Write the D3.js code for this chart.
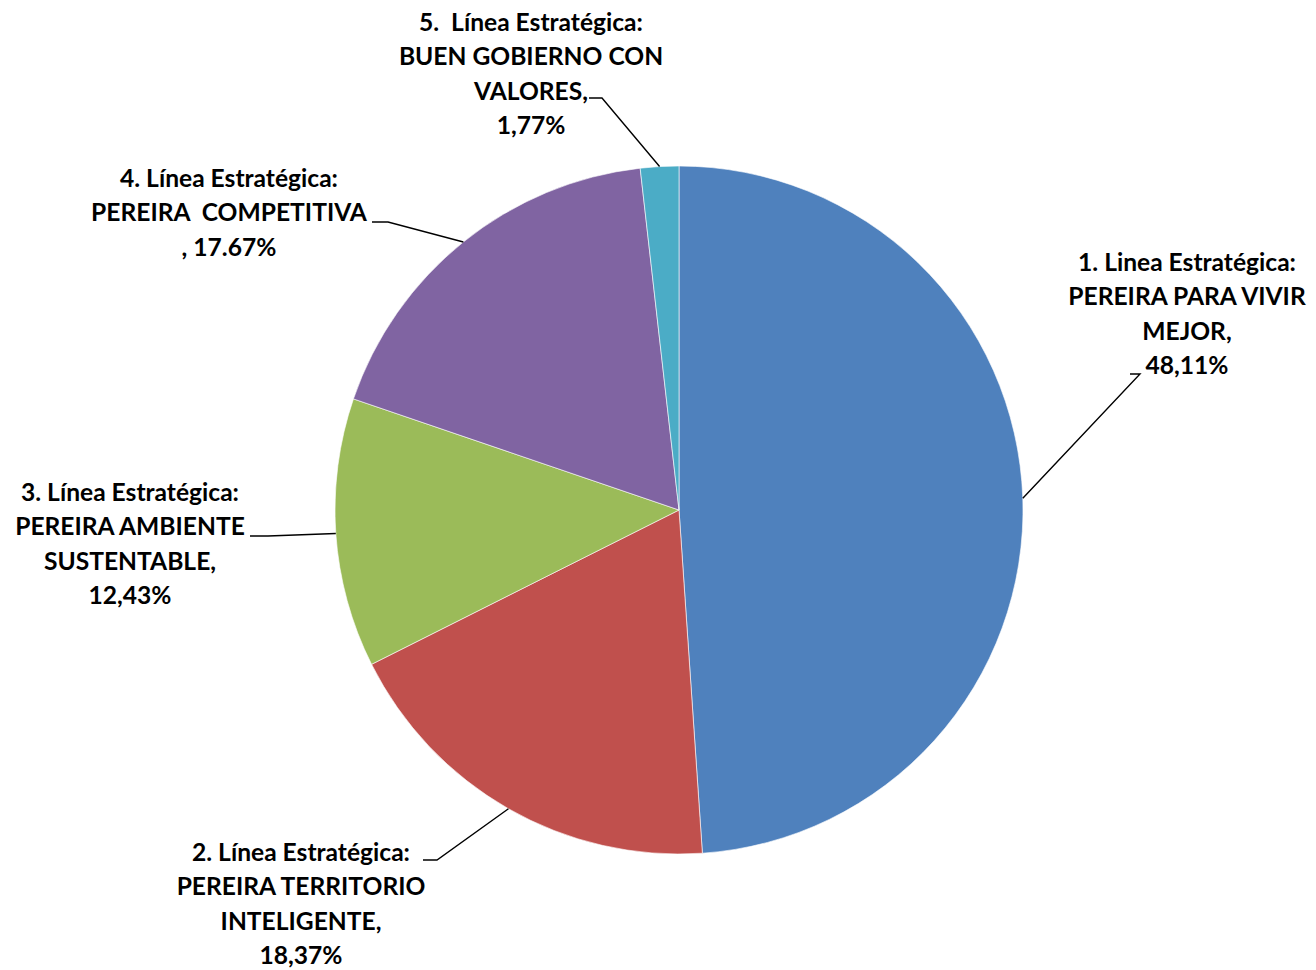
<!DOCTYPE html>
<html><head><meta charset="utf-8">
<script src="https://cdn.jsdelivr.net/npm/d3@7"></script>
<style>body{margin:0;background:#fff}svg{display:block}</style>
</head><body>
<svg id="c" width="1316" height="970"></svg>
<script>
// Data
const categories = ["1. Linea Estratégica: PEREIRA PARA VIVIR MEJOR","2. Línea Estratégica: PEREIRA TERRITORIO INTELIGENTE","3. Línea Estratégica: PEREIRA AMBIENTE SUSTENTABLE","4. Línea Estratégica: PEREIRA  COMPETITIVA","5.  Línea Estratégica: BUEN GOBIERNO CON VALORES"];
const values = [48.11, 18.37, 12.43, 17.67, 1.77];
const labelLines = [
  ["1. Linea Estratégica:","PEREIRA PARA VIVIR","MEJOR,","48,11%"],
  ["2. Línea Estratégica:","PEREIRA TERRITORIO","INTELIGENTE,","18,37%"],
  ["3. Línea Estratégica:","PEREIRA AMBIENTE","SUSTENTABLE,","12,43%"],
  ["4. Línea Estratégica:","PEREIRA  COMPETITIVA",", 17.67%"],
  ["5.  Línea Estratégica:","BUEN GOBIERNO CON","VALORES,","1,77%"]
];
const colors = ["#4F81BD","#C0504D","#9BBB59","#8064A2","#4BACC6"];

// Layout
const cx = 679, cy = 510, R = 344;
const lineH = 34.6;
const labelLayout = [
  {x:1187, y:262, lx:1130, ly:374, ex:1140},
  {x:301,  y:852, lx:423,  ly:860, ex:437},
  {x:130,  y:492, lx:250,  ly:536, ex:268},
  {x:229,  y:178, lx:372,  ly:222, ex:388},
  {x:531,  y:22,  lx:589,  ly:98,  ex:602}
];

const svg = d3.select("#c");
const g = svg.append("g").attr("transform",`translate(${cx},${cy})`);
const pie = d3.pie().sort(null).value(d=>d)(values);
const arc = d3.arc().innerRadius(0).outerRadius(R);

g.selectAll("path.slice").data(pie).join("path")
  .attr("class","slice").attr("d",arc)
  .attr("fill",(d,i)=>colors[i])
  .attr("stroke","#fff").attr("stroke-width",0.6);

pie.forEach((d,i)=>{
  const a = (d.startAngle+d.endAngle)/2;
  const px = cx + R*Math.sin(a), py = cy - R*Math.cos(a);
  const L = labelLayout[i];
  const pts = [[L.lx,L.ly],[L.ex,L.ly],[px,py]];
  svg.append("path").attr("d",d3.line()(pts))
    .attr("fill","none").attr("stroke","#000").attr("stroke-width",1.4);
});

labelLines.forEach((lines,i)=>{
  const L = labelLayout[i];
  const t = svg.append("text").attr("text-anchor","middle")
    .attr("font-family","Lato, 'Open Sans', sans-serif")
    .attr("font-weight","bold").attr("font-size",24.6).attr("fill","#000")
    .style("white-space","pre");
  lines.forEach((s,j)=>{
    t.append("tspan").attr("x",L.x).attr("y",L.y + j*lineH)
      .attr("dy","0.35em").text(s);
  });
});
</script>
</body></html>
